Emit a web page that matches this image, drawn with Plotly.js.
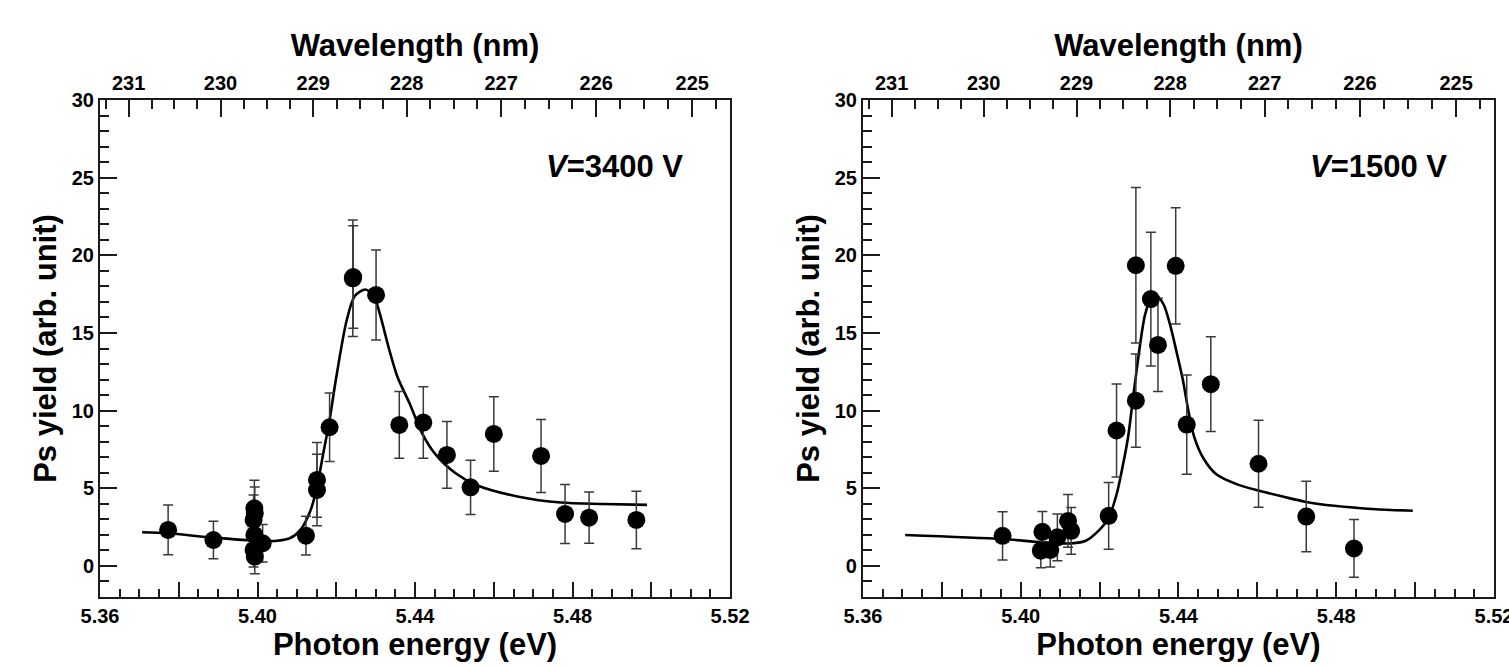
<!DOCTYPE html>
<html>
<head>
<meta charset="utf-8">
<script src="https://cdn.plot.ly/plotly-3.0.1.min.js"></script>
<style>html,body{margin:0;padding:0;background:#fff;}#chart{width:1509px;height:667px;}</style>
</head>
<body>
<div id="chart"></div>
<script>
// ---- Left panel (V = 3400 V) ----
const leftEnergy = [5.3773, 5.3888, 5.3992, 5.3993, 5.3990, 5.3992, 5.3990, 5.3993, 5.4013, 5.4123, 5.4151, 5.4151, 5.4183, 5.4242, 5.4243, 5.4301, 5.4360, 5.4421, 5.4481, 5.4541, 5.4600, 5.4720, 5.4781, 5.4842, 5.4962];
const leftYield  = [2.32, 1.67, 3.71, 3.39, 2.96, 2.00, 1.03, 0.60, 1.46, 1.95, 5.54, 4.89, 8.93, 18.52, 18.60, 17.45, 9.08, 9.23, 7.15, 5.06, 8.50, 7.08, 3.35, 3.11, 2.96];
const leftErr    = [1.6, 1.2, 1.8, 1.7, 1.6, 1.5, 1.1, 1.1, 1.2, 1.25, 2.4, 2.3, 2.2, 3.75, 3.3, 2.9, 2.15, 2.3, 2.15, 1.75, 2.4, 2.35, 1.9, 1.65, 1.85];
const leftFitE   = [5.3707, 5.3773, 5.3888, 5.3991, 5.4045, 5.4082, 5.4109, 5.4135, 5.4151, 5.4167, 5.4183, 5.4199, 5.4226, 5.4247, 5.4274, 5.4295, 5.4311, 5.4333, 5.4355, 5.4386, 5.4418, 5.4450, 5.4503, 5.4557, 5.4663, 5.4770, 5.4877, 5.4989];
const leftFitY   = [2.17, 2.10, 1.82, 1.63, 1.61, 1.78, 2.32, 3.60, 5.10, 7.25, 9.40, 12.0, 15.77, 17.38, 17.80, 17.40, 16.20, 14.06, 12.2, 10.47, 8.54, 7.25, 5.97, 5.20, 4.46, 4.08, 3.99, 3.93];

// ---- Right panel (V = 1500 V) ----
const rightEnergy = [5.3954, 5.4051, 5.4055, 5.4075, 5.4093, 5.4120, 5.4128, 5.4223, 5.4243, 5.4292, 5.4292, 5.4330, 5.4348, 5.4393, 5.4421, 5.4482, 5.4603, 5.4724, 5.4845];
const rightYield  = [1.94, 0.98, 2.20, 1.03, 1.84, 2.90, 2.26, 3.23, 8.72, 10.64, 19.36, 17.18, 14.23, 19.32, 9.10, 11.70, 6.58, 3.18, 1.13];
const rightErr    = [1.55, 1.1, 1.3, 1.1, 1.5, 1.7, 1.5, 2.15, 3.0, 3.0, 5.0, 4.3, 3.0, 3.75, 3.2, 3.05, 2.8, 2.27, 1.86];
const rightFitE   = [5.3707, 5.3954, 5.4055, 5.4128, 5.4165, 5.4197, 5.4223, 5.4243, 5.4256, 5.4272, 5.4288, 5.4315, 5.4330, 5.4347, 5.4363, 5.4379, 5.4395, 5.4411, 5.4425, 5.4440, 5.4464, 5.4496, 5.4549, 5.4603, 5.4667, 5.4724, 5.4795, 5.4901, 5.4994];
const rightFitY   = [1.99, 1.73, 1.52, 1.45, 1.62, 2.26, 3.10, 4.60, 6.10, 8.25, 11.45, 16.15, 17.18, 17.33, 16.80, 15.50, 13.80, 12.00, 10.00, 8.30, 6.90, 5.90, 5.25, 4.85, 4.45, 4.12, 3.87, 3.65, 3.55];

// ---- Axis ticks ----
const energyBlankLabels = ['5.38', '5.42', '5.46', '5.50'];
const wavelengthTicks = [231, 230, 229, 228, 227, 226, 225];
const wavelengthMinor = [231.25, 230.75, 230.5, 230.25, 229.75, 229.5, 229.25, 228.75, 228.5, 228.25, 227.75, 227.5, 227.25, 226.75, 226.5, 226.25, 225.75, 225.5, 225.25, 224.75];
const panelLabels = ['=3400 V', '=1500 V'];

const HC = 1239.84; // eV*nm, converts wavelength tick positions to energy axis
const FONT = 'Liberation Sans, Arial, sans-serif';
const INK = '#1a1a1a';

function errTrace(x, y, e, xa, ya) {
  return {
    type: 'scatter', mode: 'markers', x: x, y: y, xaxis: xa, yaxis: ya,
    marker: {color: '#000', size: 18},
    error_y: {type: 'data', array: e, visible: true, color: '#3a3a3a', thickness: 1.5, width: 5},
    showlegend: false, hoverinfo: 'x+y'
  };
}
function fitTrace(x, y, xa, ya) {
  return {
    type: 'scatter', mode: 'lines', x: x, y: y, xaxis: xa, yaxis: ya,
    line: {color: '#000', width: 2.6, shape: 'spline', smoothing: 0.8},
    showlegend: false, hoverinfo: 'skip'
  };
}
function ghost(xa, ya) {
  return {type: 'scatter', mode: 'markers', x: [null], y: [null], xaxis: xa, yaxis: ya, showlegend: false, hoverinfo: 'skip'};
}

const data = [
  fitTrace(leftFitE, leftFitY, 'x', 'y'),
  errTrace(leftEnergy, leftYield, leftErr, 'x', 'y'),
  fitTrace(rightFitE, rightFitY, 'x2', 'y2'),
  errTrace(rightEnergy, rightYield, rightErr, 'x2', 'y2'),
  ghost('x3', 'y'), ghost('x4', 'y2'),
  ghost('x5', 'y'), ghost('x6', 'y2')
];

const tickFont = {family: FONT, size: 20, color: '#000', weight: 'bold'};
const titleFont = {family: FONT, size: 31, color: '#000', weight: 'bold'};
const alias = {};
energyBlankLabels.forEach(t => { alias[t] = ' '; });

function bottomAxis(domain, anchor) {
  return {
    domain: domain, anchor: anchor, range: [5.36, 5.52],
    tickmode: 'linear', tick0: 5.36, dtick: 0.02, tickformat: '.2f', labelalias: alias,
    ticks: 'inside', ticklen: 15, tickwidth: 2, tickcolor: INK,
    minor: {tick0: 5.36, dtick: 0.005, ticks: 'inside', ticklen: 8, tickwidth: 2, tickcolor: INK},
    showline: true, linecolor: INK, linewidth: 2, mirror: false,
    showgrid: false, zeroline: false, ticklabeloverflow: 'allow',
    tickfont: tickFont,
    title: {text: 'Photon energy (eV)', font: titleFont, standoff: 4}
  };
}
// top axis: every wavelength tick (major + minor) short, labels on whole nm
function topAxis(over, anchor) {
  const vals = wavelengthTicks.concat(wavelengthMinor);
  return {
    overlaying: over, anchor: anchor, side: 'top', range: [5.36, 5.52],
    tickmode: 'array', tickvals: vals.map(w => HC / w),
    ticktext: vals.map(w => (Number.isInteger(w) ? String(w) : ' ')),
    ticks: 'inside', ticklen: 9, tickwidth: 2, tickcolor: INK,
    showline: true, linecolor: INK, linewidth: 2,
    showgrid: false, zeroline: false,
    tickfont: tickFont,
    title: {text: 'Wavelength (nm)', font: titleFont, standoff: 6}
  };
}
// longer marks on the whole-nm wavelength ticks
function topMajor(over, anchor) {
  return {
    overlaying: over, anchor: anchor, side: 'top', range: [5.36, 5.52],
    tickmode: 'array', tickvals: wavelengthTicks.map(w => HC / w), ticktext: wavelengthTicks.map(() => ' '),
    ticks: 'inside', ticklen: 17, tickwidth: 2, tickcolor: INK,
    showline: false, showgrid: false, zeroline: false,
    tickfont: tickFont
  };
}
function leftAxis(anchor) {
  return {
    anchor: anchor, domain: [0, 1], range: [-2, 30],
    tickmode: 'linear', tick0: 0, dtick: 5,
    ticks: 'inside', ticklen: 17, tickwidth: 2, tickcolor: INK,
    minor: {tick0: 0, dtick: 1, ticks: 'inside', ticklen: 9, tickwidth: 2, tickcolor: INK},
    showline: true, linecolor: INK, linewidth: 2, mirror: true,
    showgrid: false, zeroline: false,
    tickfont: tickFont,
    title: {text: 'Ps yield (arb. unit)', font: titleFont, standoff: 6}
  };
}

const layout = {
  width: 1509, height: 667,
  margin: {l: 100, r: 15, t: 100, b: 70},
  paper_bgcolor: '#fff', plot_bgcolor: '#fff',
  showlegend: false,
  xaxis: bottomAxis([0, 0.452], 'y'),
  xaxis2: bottomAxis([0.5473, 1], 'y2'),
  xaxis3: topAxis('x', 'y'),
  xaxis4: topAxis('x2', 'y2'),
  xaxis5: topMajor('x', 'y'),
  xaxis6: topMajor('x2', 'y2'),
  yaxis: leftAxis('x'),
  yaxis2: leftAxis('x2'),
  annotations: [
    {xref: 'x', yref: 'y', x: 5.5085, y: 25.7, xanchor: 'right', yanchor: 'middle', showarrow: false,
     text: '<b><i>V</i>' + panelLabels[0] + '</b>', font: {family: FONT, size: 31, color: '#000'}},
    {xref: 'x2', yref: 'y2', x: 5.5085, y: 25.7, xanchor: 'right', yanchor: 'middle', showarrow: false,
     text: '<b><i>V</i>' + panelLabels[1] + '</b>', font: {family: FONT, size: 31, color: '#000'}}
  ]
};

Plotly.newPlot('chart', data, layout, {displayModeBar: false, staticPlot: true});
</script>
</body>
</html>
